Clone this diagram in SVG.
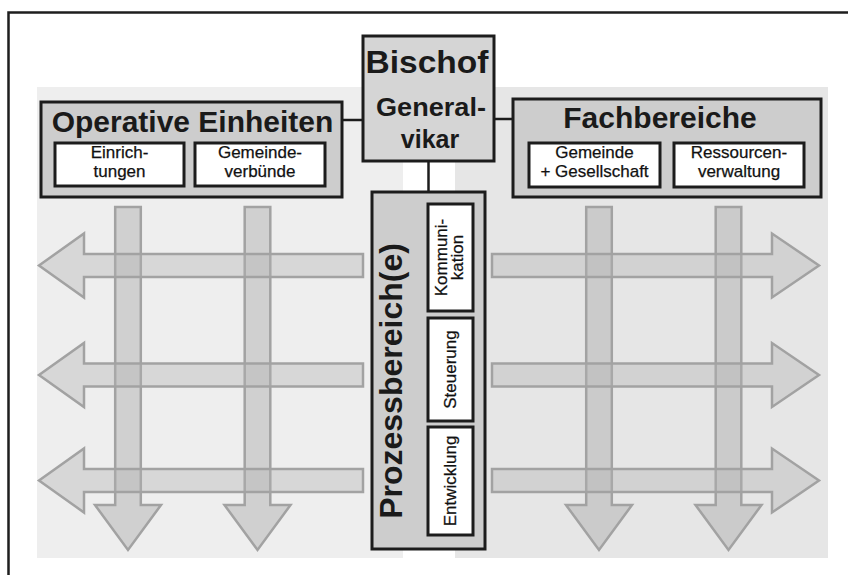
<svg xmlns="http://www.w3.org/2000/svg" xmlns:xlink="http://www.w3.org/1999/xlink" width="848" height="575" viewBox="0 0 848 575">
  <style>
    .frame { fill: none; stroke: #1e1e1e; stroke-width: 2.5; }
    .box { fill: #cdcdcd; stroke: #1c1c1c; stroke-width: 3; }
    .head { fill: #d5d5d5; stroke: #1c1c1c; stroke-width: 3; }
    .sub { fill: #ffffff; stroke: #1c1c1c; stroke-width: 3; }
    .link { stroke: #1c1c1c; stroke-width: 2.5; fill: none; }
    .title { font-family: "Liberation Sans", Arial, sans-serif; font-weight: bold; fill: #1a1a1a; text-anchor: middle; }
    .small { font-family: "Liberation Sans", Arial, sans-serif; font-size: 17px; fill: #111111; stroke: #111111; stroke-width: 0.25; text-anchor: middle; }
    .harrow { fill: #b4b4b4; fill-opacity: 0.38; stroke: #a2a2a2; stroke-width: 2.5; stroke-linejoin: miter; }
    .varrow { fill: #a6a6a6; fill-opacity: 0.42; stroke: #a2a2a2; stroke-width: 2.5; stroke-linejoin: miter; }
  </style>
  <defs>
    <!-- horizontal arrow pointing left, centred on y=0 -->
    <polygon id="arrowLeft" points="363,-11.5 84,-11.5 84,-32 39,0 84,32 84,11.5 363,11.5 363,-11.5"/>
    <!-- horizontal arrow pointing right, centred on y=0 -->
    <polygon id="arrowRight" points="492,-11.5 772,-11.5 772,-32 819,0 772,32 772,11.5 492,11.5 492,-11.5"/>
    <!-- vertical arrow pointing down, centred on x=0 -->
    <polygon id="arrowDown" points="-12.8,207 12.8,207 12.8,505 33,505 0,550 -33,505 -12.8,505 -12.8,207"/>
  </defs>

  <rect width="848" height="575" fill="#ffffff"/>
  <path class="frame" d="M8.5,575 V12.5 H848"/>

  <!-- background panels -->
  <rect x="37" y="87" width="366" height="471" fill="#eeeeee"/>
  <rect x="455" y="87" width="373" height="471" fill="#e6e6e6"/>

  <!-- vertical flow arrows -->
  <g id="flow-vertical">
    <use xlink:href="#arrowDown" class="varrow" transform="translate(128,0)"/>
    <use xlink:href="#arrowDown" class="varrow" transform="translate(257.5,0)"/>
    <use xlink:href="#arrowDown" class="varrow" transform="translate(599,0)"/>
    <use xlink:href="#arrowDown" class="varrow" transform="translate(728.5,0)"/>
  </g>

  <!-- horizontal flow arrows -->
  <g id="flow-horizontal">
    <use xlink:href="#arrowLeft" class="harrow" transform="translate(0,265.5)"/>
    <use xlink:href="#arrowLeft" class="harrow" transform="translate(0,375)"/>
    <use xlink:href="#arrowLeft" class="harrow" transform="translate(0,480.5)"/>
    <use xlink:href="#arrowRight" class="harrow" transform="translate(0,265.5)"/>
    <use xlink:href="#arrowRight" class="harrow" transform="translate(0,375)"/>
    <use xlink:href="#arrowRight" class="harrow" transform="translate(0,480.5)"/>
  </g>

  <!-- connectors -->
  <g id="connectors">
    <line class="link" x1="342" y1="120" x2="363" y2="120"/>
    <line class="link" x1="494" y1="119" x2="513" y2="119"/>
    <line class="link" x1="428.5" y1="161" x2="428.5" y2="192"/>
  </g>

  <!-- Bischof / Generalvikar -->
  <g id="bischof">
    <rect class="head" x="363" y="36" width="131" height="125"/>
    <text class="title" x="427" y="73" font-size="32" textLength="123" lengthAdjust="spacingAndGlyphs">Bischof</text>
    <text class="title" x="431" y="116" font-size="25" textLength="110" lengthAdjust="spacingAndGlyphs">General-</text>
    <text class="title" x="430" y="148" font-size="25">vikar</text>
  </g>

  <!-- Operative Einheiten -->
  <g id="operative-einheiten">
    <rect class="box" x="41" y="102" width="301" height="95"/>
    <text class="title" x="192.5" y="132" font-size="30">Operative Einheiten</text>
    <g id="einrichtungen">
      <rect class="sub" x="55" y="143" width="129" height="43"/>
      <text class="small" x="119.5" y="158">Einrich-</text>
      <text class="small" x="119.5" y="177">tungen</text>
    </g>
    <g id="gemeindeverbuende">
      <rect class="sub" x="195" y="143" width="130" height="43"/>
      <text class="small" x="260" y="158">Gemeinde-</text>
      <text class="small" x="260" y="177">verbünde</text>
    </g>
  </g>

  <!-- Fachbereiche -->
  <g id="fachbereiche">
    <rect class="box" x="513" y="99" width="308" height="98"/>
    <text class="title" x="660" y="128" font-size="30">Fachbereiche</text>
    <g id="gemeinde-gesellschaft">
      <rect class="sub" x="529" y="143" width="131" height="44"/>
      <text class="small" x="594.5" y="158">Gemeinde</text>
      <text class="small" x="594.5" y="177">+ Gesellschaft</text>
    </g>
    <g id="ressourcenverwaltung">
      <rect class="sub" x="674" y="143" width="130" height="44"/>
      <text class="small" x="739" y="158">Ressourcen-</text>
      <text class="small" x="739" y="177">verwaltung</text>
    </g>
  </g>

  <!-- Prozessbereich(e) -->
  <g id="prozessbereiche">
    <rect class="box" x="372" y="192" width="113" height="357"/>
    <text class="title" font-size="32" transform="translate(402,381) rotate(-90)">Prozessbereich(e)</text>
    <g id="kommunikation">
      <rect class="sub" x="428" y="204" width="45" height="107"/>
      <text class="small" transform="translate(447,257.5) rotate(-90)">Kommuni-</text>
      <text class="small" transform="translate(463,257.5) rotate(-90)">kation</text>
    </g>
    <g id="steuerung">
      <rect class="sub" x="428" y="318" width="45" height="103"/>
      <text class="small" transform="translate(456,369.5) rotate(-90)">Steuerung</text>
    </g>
    <g id="entwicklung">
      <rect class="sub" x="428" y="427" width="45" height="108"/>
      <text class="small" transform="translate(456,481) rotate(-90)">Entwicklung</text>
    </g>
  </g>
</svg>
